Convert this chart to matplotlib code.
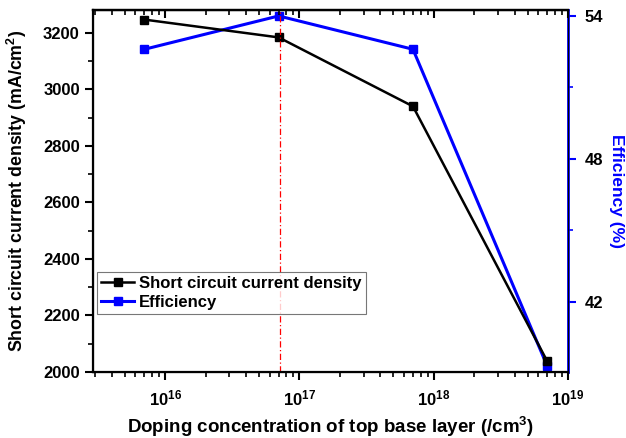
import numpy as np
import matplotlib.pyplot as plt
from matplotlib.ticker import MultipleLocator, LogLocator, NullFormatter, FuncFormatter

plt.rcParams['font.family'] = ['Liberation Sans', 'DejaVu Sans']
plt.rcParams['font.weight'] = 'bold'
plt.rcParams['mathtext.fontset'] = 'custom'
plt.rcParams['mathtext.rm'] = 'Liberation Sans:bold'
plt.rcParams['mathtext.bf'] = 'Liberation Sans:bold'

doping = [7e15, 7e16, 7e17, 7e18]
jsc = [3247, 3184, 2940, 2038]
eff = [52.6, 54.0, 52.6, 39.3]
opt_doping = 7.2e16

fig = plt.figure(figsize=(6.26, 4.38), dpi=100)
ax = fig.add_axes([0.1486, 0.1507, 0.7588, 0.8265])

l1, = ax.plot(doping, jsc, color='black', lw=1.8, marker='s', ms=6,
              label='Short circuit current density')
ax.axvline(opt_doping, color='red', lw=0.9, ls=(0, (5, 2, 1, 2)))
ax.set_xscale('log')
ax.set_xlim(2.9e15, 1e19)
ax.set_ylim(2000, 3281)
ax.yaxis.set_major_locator(MultipleLocator(200))
ax.yaxis.set_minor_locator(MultipleLocator(100))
ax.xaxis.set_major_locator(LogLocator(base=10, numticks=10))
ax.xaxis.set_minor_locator(LogLocator(base=10, subs=np.arange(2, 10), numticks=20))
ax.xaxis.set_major_formatter(FuncFormatter(lambda v, p: '$\\mathbf{10^{%d}}$' % round(np.log10(v))))
ax.xaxis.set_minor_formatter(NullFormatter())
ax.tick_params(axis='both', which='major', direction='out', length=6, width=1.5,
               labelsize=12)
ax.tick_params(axis='x', which='major', pad=6)
ax.tick_params(axis='both', which='minor', direction='out', length=3.5, width=1.2)
for s in ['left', 'bottom', 'top']:
    ax.spines[s].set_linewidth(1.6)

# inward ticks along the top edge
top = ax.secondary_xaxis('top')
top.set_xscale('log')
top.xaxis.set_major_locator(LogLocator(base=10, numticks=10))
top.xaxis.set_minor_locator(LogLocator(base=10, subs=np.arange(2, 10), numticks=20))
top.tick_params(which='major', direction='in', length=6, width=1.5, labeltop=False)
top.tick_params(which='minor', direction='in', length=3.5, width=1.2)
top.spines['top'].set_linewidth(1.6)

ax.set_xlabel('Doping concentration of top base layer (/cm$^\\mathbf{3}$)',
              fontsize=13.5, fontweight='bold', labelpad=4)
ax.set_ylabel('Short circuit current density (mA/cm$^\\mathbf{2}$)',
              fontsize=12.8, fontweight='bold', labelpad=10)

ax2 = ax.twinx()
l2, = ax2.plot(doping, eff, color='#0000ff', lw=2.2, marker='s', ms=6,
               label='Efficiency')
ax2.set_ylim(39.05, 54.25)
ax2.yaxis.set_major_locator(MultipleLocator(6))
ax2.yaxis.set_minor_locator(MultipleLocator(3))
ax2.spines['right'].set_color('#0000ff')
ax2.spines['right'].set_linewidth(2)
ax2.tick_params(axis='y', which='major', direction='out', length=6, width=1.5,
                color='#0000ff', labelsize=12, pad=6)
ax2.tick_params(axis='y', which='minor', direction='out', length=3.5, width=1.2,
                color='#0000ff')
ax2.set_ylabel('Efficiency (%)', color='#0000ff', fontsize=12.5, fontweight='bold',
               rotation=270, labelpad=15)

leg = ax.legend(handles=[l1, l2], loc='upper left', bbox_to_anchor=(0.008, 0.276),
                fontsize=12, frameon=True, fancybox=False, handlelength=2.0,
                handletextpad=0.3, borderpad=0.25, labelspacing=0.2,
                borderaxespad=0)
leg.get_frame().set_edgecolor('#555555')
leg.get_frame().set_linewidth(0.8)
ax.set_zorder(ax2.get_zorder() + 1)
ax.patch.set_visible(False)

fig.savefig('out.png', dpi=100)
